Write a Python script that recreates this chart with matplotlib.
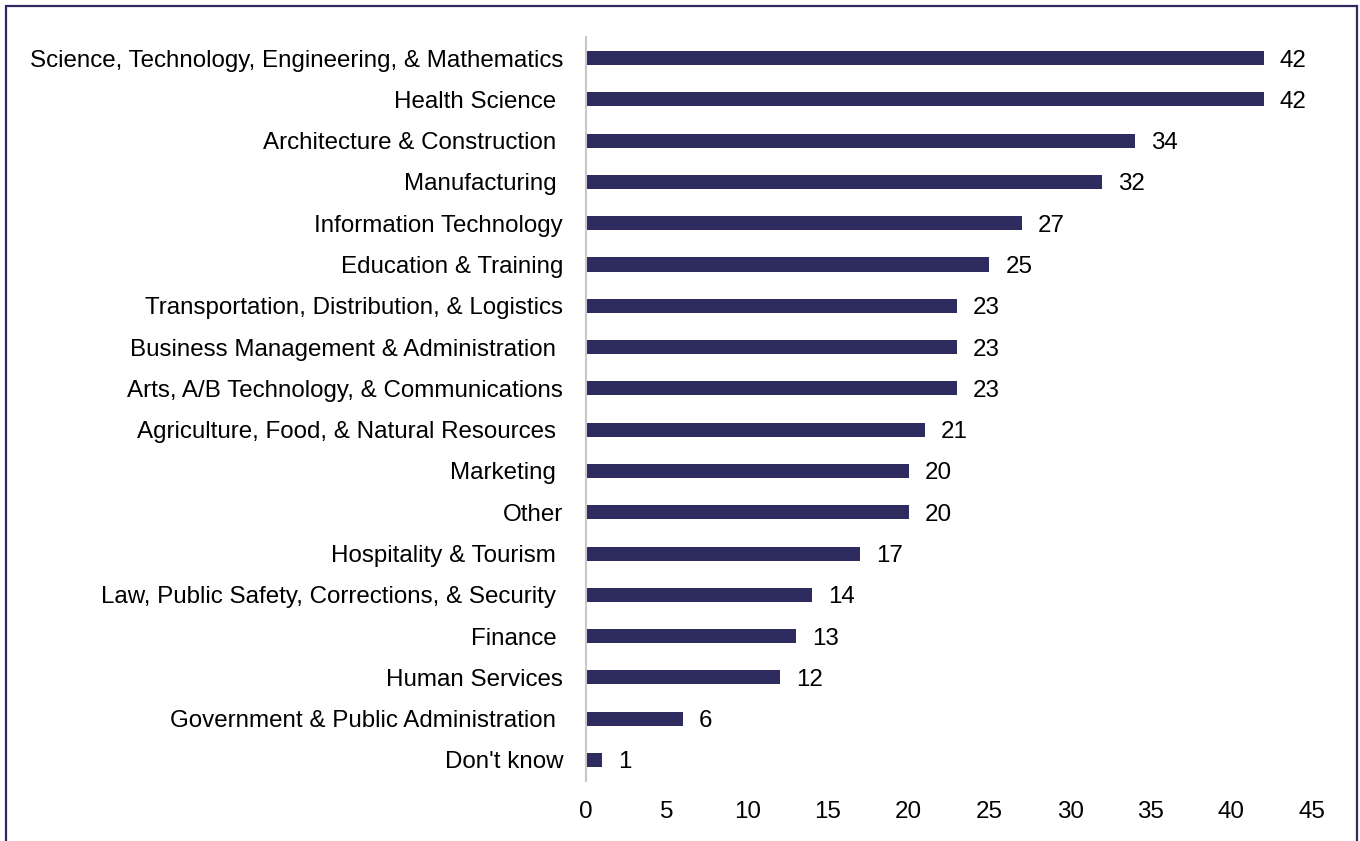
import matplotlib.pyplot as plt
from matplotlib.patches import Rectangle

plt.rcParams['font.family'] = ['Liberation Sans', 'DejaVu Sans']

# Career clusters, top to bottom
clusters = [
    'Science, Technology, Engineering, & Mathematics',
    'Health Science ',
    'Architecture & Construction ',
    'Manufacturing ',
    'Information Technology',
    'Education & Training',
    'Transportation, Distribution, & Logistics',
    'Business Management & Administration ',
    'Arts, A/B Technology, & Communications',
    'Agriculture, Food, & Natural Resources ',
    'Marketing ',
    'Other',
    'Hospitality & Tourism ',
    'Law, Public Safety, Corrections, & Security ',
    'Finance ',
    'Human Services',
    'Government & Public Administration ',
    "Don't know",
]
counts = [42, 42, 34, 32, 27, 25, 23, 23, 23, 21, 20, 20, 17, 14, 13, 12, 6, 1]
xticks = [0, 5, 10, 15, 20, 25, 30, 35, 40, 45]

bar_color = '#2E2B5F'
fs = 17.35

fig = plt.figure(figsize=(13.6, 8.41), dpi=100)
ax = fig.add_axes([0.4309, 0.0718, 0.5338, 0.8837])

ypos = list(range(len(clusters)))
ax.barh(ypos, counts, height=0.34, color=bar_color)
for y, v in zip(ypos, counts):
    ax.text(v + 1.0, y, str(v), va='center_baseline', ha='left', fontsize=fs, color='black')

ax.set_xlim(0, 45)
ax.set_ylim(len(clusters) - 0.5, -0.5)
ax.set_yticks(ypos)
ax.set_yticklabels(clusters, fontsize=fs)
ax.set_xticks(xticks)
ax.set_xticklabels([str(t) for t in xticks], fontsize=fs)
ax.tick_params(axis='y', length=0, pad=16.5)
ax.tick_params(axis='x', length=0, pad=15)

for side in ['top', 'right', 'bottom']:
    ax.spines[side].set_visible(False)
ax.spines['left'].set_color('#C8C8C8')
ax.spines['left'].set_linewidth(1.5)

# frame around the chart area (open at the bottom)
frame = Rectangle((6 / 1360, -0.05), 1351 / 1360, 1.05 - 6 / 841,
                  transform=fig.transFigure, fill=False,
                  edgecolor='#2E2B5F', linewidth=1.6)
fig.patches.append(frame)

fig.savefig('out.png', dpi=100)
